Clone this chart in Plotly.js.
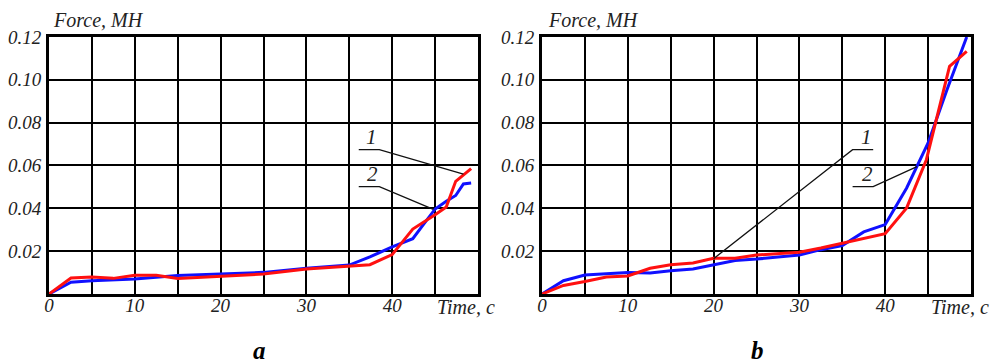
<!DOCTYPE html>
<html>
<head>
<meta charset="utf-8">
<script src="https://cdn.plot.ly/plotly-3.0.1.min.js"></script>
<style>body{margin:0;padding:0;background:#fff}#chart{width:997px;height:364px}</style>
</head>
<body>
<div id="chart"></div>
<script>
// Panel a
const aBlueX = [0, 2.56, 5, 10, 15, 20, 25, 30, 35, 37.4, 40, 42.4, 45, 46.3, 47.4, 48.3, 49.2];
const aBlueY = [0, 0.0055, 0.0062, 0.0070, 0.0086, 0.0093, 0.0101, 0.0120, 0.0135, 0.0173, 0.0220, 0.0258, 0.0397, 0.0433, 0.0460, 0.0514, 0.0518];
const aRedX = [0, 2.56, 5, 7.5, 10, 12.5, 15, 20, 25, 30, 35, 37.4, 40, 42.4, 45, 46.3, 47.4, 49.2];
const aRedY = [0, 0.0075, 0.0079, 0.0073, 0.0087, 0.0087, 0.0072, 0.0082, 0.0093, 0.0117, 0.0129, 0.0137, 0.0184, 0.0303, 0.0370, 0.0406, 0.0526, 0.0585];
// Panel b
const bBlueX = [0, 2.5, 5, 7.5, 10, 12.6, 15, 17.6, 20, 22.5, 25, 27.5, 30, 32.5, 35, 37.5, 40, 42.5, 45, 47.2, 49.5];
const bBlueY = [0, 0.0062, 0.0089, 0.0096, 0.0100, 0.0098, 0.0109, 0.0117, 0.0137, 0.0156, 0.0163, 0.0174, 0.0182, 0.0207, 0.0226, 0.0290, 0.0324, 0.0495, 0.0705, 0.0954, 0.1200];
const bRedX = [0, 2.5, 5, 7.5, 10, 12.6, 15, 17.6, 20, 22.5, 25, 27.5, 30, 32.5, 35, 37.5, 40, 42.5, 44.8, 47.5, 49.5];
const bRedY = [0, 0.0040, 0.0058, 0.0079, 0.0084, 0.0120, 0.0137, 0.0145, 0.0167, 0.0167, 0.0182, 0.0187, 0.0195, 0.0215, 0.0238, 0.0258, 0.0282, 0.0402, 0.0627, 0.1063, 0.1133];

const xTickVals = [0, 5, 10, 15, 20, 25, 30, 35, 40, 45];
const xTickText = ['0', '', '10', '', '20', '', '30', '', '40', ''];
const yTickVals = [0.02, 0.04, 0.06, 0.08, 0.10, 0.12];
const yTickText = ['0.02', '0.04', '0.06', '0.08', '0.10', '0.12'];
const curveLabels = ['1', '2'];
const panelLabels = ['a', 'b'];
const xTitle = 'Time, c';
const yTitle = 'Force, MH';

const serif = 'Liberation Serif';
const blue = '#1010ff', red = '#ff1010';

const traces = [
  {x: aBlueX, y: aBlueY, xaxis: 'x', yaxis: 'y', mode: 'lines', line: {color: blue, width: 3}},
  {x: aRedX, y: aRedY, xaxis: 'x', yaxis: 'y', mode: 'lines', line: {color: red, width: 3}},
  {x: bBlueX, y: bBlueY, xaxis: 'x2', yaxis: 'y2', mode: 'lines', line: {color: blue, width: 3}},
  {x: bRedX, y: bRedY, xaxis: 'x2', yaxis: 'y2', mode: 'lines', line: {color: red, width: 3}}
];

const tickfont = {family: serif, style: 'italic', size: 19, color: '#222'};
function xa(domain, anchor) {
  return {domain: domain, anchor: anchor, range: [0, 50], tickvals: xTickVals, ticktext: xTickText,
    showgrid: true, gridcolor: '#000', gridwidth: 2, zeroline: false,
    showline: true, mirror: true, linecolor: '#000', linewidth: 3,
    ticks: '', tickfont: tickfont, ticklabelstandoff: -8, fixedrange: true};
}
function ya(anchor) {
  return {domain: [0.1923, 0.8984], anchor: anchor, range: [0, 0.12], tickvals: yTickVals, ticktext: yTickText,
    showgrid: true, gridcolor: '#000', gridwidth: 2, zeroline: false,
    showline: true, mirror: true, linecolor: '#000', linewidth: 3,
    ticks: '', tickfont: tickfont, ticklabelstandoff: 1, fixedrange: true};
}

const textFont = {family: serif, style: 'italic', size: 20, color: '#222'};
const labFont = {family: serif, style: 'italic', size: 21, color: '#222'};
function pa(x, y, text, font, yanchor) {
  return {xref: 'paper', yref: 'paper', x: x/997, y: 1-y/364, xanchor: 'center', yanchor: yanchor || 'middle',
    text: text, showarrow: false, font: font};
}
const boldFont = {family: serif, style: 'italic', weight: 'bold', size: 25, color: '#000'};
const annotations = [
  pa(98, 20, yTitle, textFont),
  pa(593, 20, yTitle, textFont),
  pa(466, 307, xTitle, textFont),
  pa(960, 307, xTitle, textFont),
  pa(259, 366, '<b>' + panelLabels[0] + '</b>', boldFont, 'bottom'),
  pa(757, 366, '<b>' + panelLabels[1] + '</b>', boldFont, 'bottom'),
  {xref: 'x', yref: 'y', x: 37.6, y: 0.0735, text: curveLabels[0], showarrow: false, font: labFont},
  {xref: 'x', yref: 'y', x: 37.7, y: 0.0560, text: curveLabels[1], showarrow: false, font: labFont},
  {xref: 'x2', yref: 'y2', x: 37.8, y: 0.0735, text: curveLabels[0], showarrow: false, font: labFont},
  {xref: 'x2', yref: 'y2', x: 37.9, y: 0.0560, text: curveLabels[1], showarrow: false, font: labFont}
];

const cl = {color: '#111', width: 1.3};
const shapes = [
  {type: 'path', xref: 'x', yref: 'y', path: 'M36.1,0.0674 L38.5,0.0674 L48.3,0.056', line: cl},
  {type: 'path', xref: 'x', yref: 'y', path: 'M36.1,0.0501 L38.5,0.0501 L44.8,0.0395', line: cl},
  {type: 'path', xref: 'x2', yref: 'y2', path: 'M38.6,0.0674 L36.2,0.0674 L20.0,0.0165', line: cl},
  {type: 'path', xref: 'x2', yref: 'y2', path: 'M36.2,0.0501 L38.6,0.0501 L43.7,0.0595', line: cl}
];

const layout = {
  width: 997, height: 364, margin: {l: 0, r: 0, t: 0, b: 0},
  paper_bgcolor: '#fff', plot_bgcolor: '#fff', showlegend: false,
  font: {family: serif},
  xaxis: xa([49/997, 478/997], 'y'),
  yaxis: ya('x'),
  xaxis2: xa([542/997, 971/997], 'y2'),
  yaxis2: ya('x2'),
  annotations: annotations, shapes: shapes
};

Plotly.newPlot('chart', traces, layout, {displayModeBar: false, staticPlot: true});
</script>
</body>
</html>
